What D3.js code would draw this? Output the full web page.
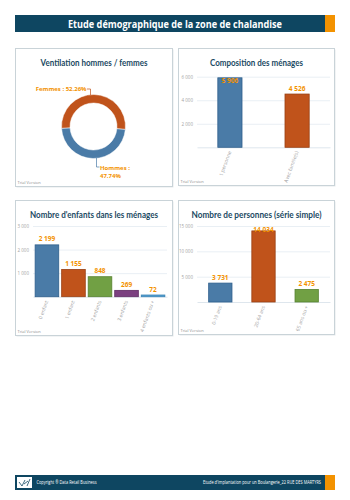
<!DOCTYPE html>
<html>
<head>
<meta charset="utf-8">
<script src="https://cdn.jsdelivr.net/npm/d3@7"></script>
<style>
  body { margin: 0; background: #fff; }
  svg { display: block; }
  text { font-family: "Open Sans", "DejaVu Sans", sans-serif; }
</style>
</head>
<body>
<div id="page"></div>
<script>
// data
const genderLabels = ['Hommes', 'Femmes'];
const genderShares = [47.74, 52.26];

const householdCats = ['1 personne', 'Avec famille(s)'];
const householdValues = [5906, 4526];
const householdTicks = [2000, 4000, 6000];

const childCats = ['0 enfant', '1 enfant', '2 enfants', '3 enfants', '4 enfants ou +'];
const childValues = [2199, 1155, 848, 269, 72];
const childTicks = [1000, 2000, 3000];

const personCats = ['0-19 ans', '20-64 ans', '65 ans ou +'];
const personValues = [3731, 14034, 2475];
const personTicks = [5000, 10000, 15000];

const palette = ['#4a7ba7', '#c0531b', '#71a044', '#7b4080', '#55a0d0'];
const strokes = ['#2f5f8c', '#983f12', '#56812f', '#5e2c63', '#3a84b5'];
const navy = '#0e4661';
const orange = '#f39200';

const fmt = v => d3.format(',')(v).replace(/,/g, ' ');

const svg = d3.select('#page').append('svg')
  .attr('width', 350)
  .attr('height', 500);

// header band
svg.append('rect').attr('x', 15).attr('y', 15).attr('width', 310).attr('height', 17).attr('fill', navy);
svg.append('rect').attr('x', 325).attr('y', 15).attr('width', 10).attr('height', 17).attr('fill', orange);
svg.append('text')
  .attr('x', 175).attr('y', 27.5)
  .attr('text-anchor', 'middle')
  .attr('textLength', 214).attr('lengthAdjust', 'spacingAndGlyphs')
  .style('font-family', '"Liberation Sans Narrow", "Open Sans", sans-serif')
  .style('font-weight', 'bold').style('font-size', '10.5px')
  .attr('fill', '#fff')
  .text('Etude démographique de la zone de chalandise');

// panel frames
function panel(x, y, w, h, title, titleW) {
  const g = svg.append('g');
  g.append('rect')
    .attr('x', x + 1).attr('y', y + 1).attr('width', w).attr('height', h)
    .attr('fill', '#e6eaec');
  g.append('rect')
    .attr('x', x).attr('y', y).attr('width', w).attr('height', h)
    .attr('fill', '#fff').attr('stroke', '#c9d3d8').attr('stroke-width', 1);
  g.append('text')
    .attr('x', x + w / 2).attr('y', y + 17)
    .attr('text-anchor', 'middle')
    .attr('textLength', titleW).attr('lengthAdjust', 'spacingAndGlyphs')
    .style('font-family', 'Lato, "Open Sans", sans-serif')
    .style('font-weight', 'bold').style('font-size', '9px')
    .attr('fill', '#1b4a63')
    .text(title);
  g.append('text')
    .attr('x', x + 2).attr('y', y + h - 2.5)
    .style('font-size', '4px').attr('fill', '#8a8a8a')
    .text('Trial Version');
  return g;
}

// donut
const p1 = panel(15.5, 48.5, 157, 138, 'Ventilation hommes / femmes', 107);
const pie = d3.pie().sort(null)
  .startAngle(95 * Math.PI / 180)
  .endAngle(455 * Math.PI / 180);
const arcs = pie(genderShares);
const arc = d3.arc().innerRadius(23.5).outerRadius(32);
const donut = p1.append('g').attr('transform', 'translate(93.5,126.5)');
donut.selectAll('path')
  .data(arcs)
  .join('path')
  .attr('d', arc)
  .attr('fill', (d, i) => palette[i])
  .attr('stroke', '#fff').attr('stroke-width', 0.5);

// connectors + labels
p1.append('path')
  .attr('d', 'M87,89 H90.5 V95')
  .attr('fill', 'none').attr('stroke', '#c0531b').attr('stroke-width', 0.7);
p1.append('text')
  .attr('x', 86.5).attr('y', 91)
  .attr('text-anchor', 'end')
  .style('font-size', '6px').style('font-weight', 'bold')
  .attr('fill', orange)
  .text(`${genderLabels[1]} : ${genderShares[1].toFixed(2)}%`);
p1.append('path')
  .attr('d', 'M96.5,158 V167 H99.5')
  .attr('fill', 'none').attr('stroke', '#4a7ba7').attr('stroke-width', 0.7);
p1.append('text')
  .attr('x', 100).attr('y', 169.5)
  .style('font-size', '6px').style('font-weight', 'bold')
  .attr('fill', orange)
  .text(`${genderLabels[0]} :`);
p1.append('text')
  .attr('x', 100).attr('y', 178)
  .style('font-size', '6px').style('font-weight', 'bold')
  .attr('fill', orange)
  .text(`${genderShares[0].toFixed(2)}%`);

// generic bar chart
function barChart(g, cfg) {
  const x = d3.scaleBand()
    .domain(cfg.cats)
    .range([cfg.left, cfg.right])
    .paddingInner(cfg.pi)
    .paddingOuter(cfg.po);
  const y = d3.scaleLinear()
    .domain([0, cfg.max])
    .range([cfg.base, cfg.top]);

  // y axis with grid lines
  const yAxis = d3.axisLeft(y)
    .tickValues(cfg.ticks)
    .tickSize(-(cfg.right - cfg.left))
    .tickPadding(4)
    .tickFormat(fmt);
  const ya = g.append('g')
    .attr('transform', `translate(${cfg.left},0)`)
    .call(yAxis);
  ya.select('.domain').remove();
  ya.selectAll('line').attr('stroke', '#e3ebf1').attr('stroke-width', 0.8);
  ya.selectAll('text')
    .attr('fill', '#a3a3a3')
    .style('font-size', '4.5px')
    .style('font-family', '"Open Sans", sans-serif');

  // baseline
  const xAxis = d3.axisBottom(x).tickSize(0).tickPadding(0);
  const xa = g.append('g')
    .attr('transform', `translate(0,${cfg.base})`)
    .call(xAxis);
  xa.select('.domain').attr('stroke', '#d6e0e8').attr('stroke-width', 0.8);
  xa.selectAll('text')
    .attr('fill', '#a3a3a3')
    .style('font-size', '5px')
    .style('font-family', '"Open Sans", sans-serif')
    .attr('text-anchor', 'end')
    .attr('dy', '0')
    .attr('y', 0)
    .attr('transform', 'translate(1.5,4.5) rotate(-70)');

  g.selectAll('.bar')
    .data(cfg.values)
    .join('rect')
    .attr('class', 'bar')
    .attr('x', (d, i) => x(cfg.cats[i]))
    .attr('width', x.bandwidth())
    .attr('y', d => y(d))
    .attr('height', d => Math.max(1.2, cfg.base - y(d)))
    .attr('fill', (d, i) => palette[i])
    .attr('stroke', (d, i) => strokes[i])
    .attr('stroke-width', 0.8);

  g.selectAll('.lbl')
    .data(cfg.values)
    .join('text')
    .attr('class', 'lbl')
    .attr('x', (d, i) => x(cfg.cats[i]) + x.bandwidth() / 2)
    .attr('y', d => Math.max(y(d) - 3.5, cfg.top + 6))
    .attr('text-anchor', 'middle')
    .style('font-size', '6.5px').style('font-weight', 'bold')
    .attr('fill', orange)
    .text(fmt);
}

const p2 = panel(178.5, 48.5, 156, 137, 'Composition des ménages', 93);
barChart(p2, {
  cats: householdCats, values: householdValues, ticks: householdTicks, max: 6000,
  left: 197, right: 330, base: 147.3, top: 76.7, pi: 0.64, po: 0.31
});

const p3 = panel(15.5, 200.5, 157, 135, "Nombre d'enfants dans les ménages", 128);
barChart(p3, {
  cats: childCats, values: childValues, ticks: childTicks, max: 3000,
  left: 33, right: 167, base: 296.7, top: 226, pi: 0.11, po: 0.08
});

const p4 = panel(178.5, 200.5, 156, 134, 'Nombre de personnes (série simple)', 130);
barChart(p4, {
  cats: personCats, values: personValues, ticks: personTicks, max: 15000,
  left: 197, right: 330, base: 302, top: 226, pi: 0.46, po: 0.27
});

// footer band
svg.append('rect').attr('x', 15).attr('y', 475).attr('width', 310).attr('height', 15).attr('fill', navy);
svg.append('rect').attr('x', 325).attr('y', 475).attr('width', 10).attr('height', 15).attr('fill', orange);
svg.append('rect').attr('x', 17).attr('y', 477).attr('width', 15).attr('height', 11).attr('fill', '#fff');
svg.append('path')
  .attr('d', 'M19,482 L22,486 L25,480 M24,484 L28,481 M27,486 L30,479')
  .attr('fill', 'none').attr('stroke', navy).attr('stroke-width', 0.8);
svg.append('text')
  .attr('x', 36.5).attr('y', 484)
  .attr('textLength', 60).attr('lengthAdjust', 'spacingAndGlyphs')
  .style('font-size', '4.5px').attr('fill', '#fff')
  .text('Copyright ® Data Retail Business');
svg.append('text')
  .attr('x', 321).attr('y', 484)
  .attr('text-anchor', 'end')
  .attr('textLength', 118).attr('lengthAdjust', 'spacingAndGlyphs')
  .style('font-size', '4.5px').attr('fill', '#fff')
  .text("Etude d'implantation pour un Boulangerie_22 RUE DES MARTYRS");
</script>
</body>
</html>
